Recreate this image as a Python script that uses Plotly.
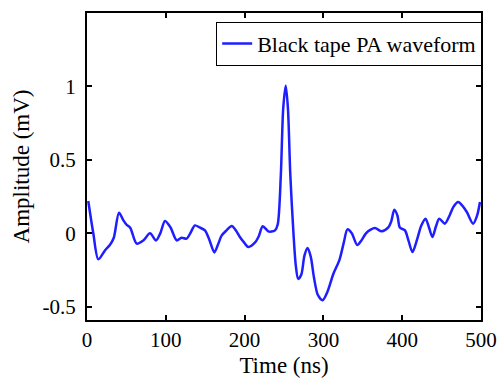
import plotly.graph_objects as go

time_ns = [1.6, 8, 14.4, 23, 29, 34, 40.6, 46, 50, 55, 63, 71.5, 80, 87.6, 93, 99, 106, 113.8, 120, 126.5, 131,
           137, 143, 149.7, 155, 161.6, 166, 171, 177, 183.6, 189, 194, 199, 204.7, 213, 218, 223, 230, 234, 238.6,
           242, 246, 249, 252.2, 255, 258, 262, 265, 268, 272, 276, 280, 284, 288, 293, 299, 305, 312.7, 320.4, 326,
           330.5, 336, 343, 348, 354, 360, 365.5, 374, 382.4, 386, 390, 394, 397, 403.5, 408, 413, 419, 424, 429.6,
           434, 438.3, 443, 447, 454, 460, 465, 471, 476, 482, 490, 495, 498.7]
amplitude = [0.22, 0.0, -0.177, -0.115, -0.08, -0.03, 0.14, 0.09, 0.06, 0.036, -0.07, -0.048, 0.0, -0.048, 0.0,
             0.084, 0.04, -0.048, -0.03, -0.036, 0.0, 0.054, 0.04, 0.02, -0.04, -0.13, -0.08, -0.014, 0.02, 0.05,
             0.02, -0.025, -0.06, -0.093, -0.064, -0.02, 0.048, 0.014, 0.012, 0.02, 0.06, 0.4, 0.85, 1.005, 0.85,
             0.4, 0.0, -0.22, -0.31, -0.28, -0.15, -0.1, -0.16, -0.3, -0.42, -0.456, -0.4, -0.275, -0.18, -0.06,
             0.027, 0.0, -0.08, -0.05, 0.0, 0.025, 0.036, 0.014, 0.04, 0.08, 0.16, 0.12, 0.04, 0.02, -0.05, -0.127,
             -0.04, 0.05, 0.1, 0.04, -0.025, 0.05, 0.1, 0.066, 0.12, 0.18, 0.213, 0.19, 0.145, 0.066, 0.12, 0.213]

x_ticks = [0, 100, 200, 300, 400, 500]
y_ticks = [-0.5, 0, 0.5, 1]
y_tick_labels = ["-0.5", "0", "0.5", "1"]

font_family = "Times New Roman, Liberation Serif, DejaVu Serif, serif"
tick_size = 21
title_size = 23
legend_size = 22

fig = go.Figure()
fig.add_trace(go.Scatter(
    x=time_ns, y=amplitude, mode="lines", name="Black tape PA waveform",
    line=dict(color="rgb(30,30,255)", width=2.5, shape="spline", smoothing=0.8),
))

axis_common = dict(
    showline=True, linecolor="black", linewidth=2, mirror="ticks",
    ticks="inside", ticklen=5, tickwidth=1.5, tickcolor="black",
    showgrid=False, zeroline=False, automargin=False,
    tickfont=dict(family=font_family, size=tick_size, color="black"),
)

fig.update_layout(
    width=501, height=387,
    margin=dict(l=87, r=20, t=13, b=67, autoexpand=False),
    paper_bgcolor="white", plot_bgcolor="white",
    font=dict(family=font_family, size=tick_size, color="black"),
    xaxis=dict(range=[0, 500], tickvals=x_ticks,
               title=dict(text="Time (ns)", font=dict(family=font_family, size=title_size), standoff=6),
               **axis_common),
    yaxis=dict(range=[-0.59, 1.5], tickvals=y_ticks, ticktext=y_tick_labels, ticklabelstandoff=5,
               title=dict(text="Amplitude (mV)", font=dict(family=font_family, size=title_size), standoff=6),
               **axis_common),
    legend=dict(x=1.003, y=0.972, xanchor="right", yanchor="top",
                bordercolor="black", borderwidth=1, bgcolor="white",
                font=dict(family=font_family, size=legend_size),
                itemwidth=30, tracegroupgap=0),
    showlegend=True,
)

fig.write_html("out.html")
